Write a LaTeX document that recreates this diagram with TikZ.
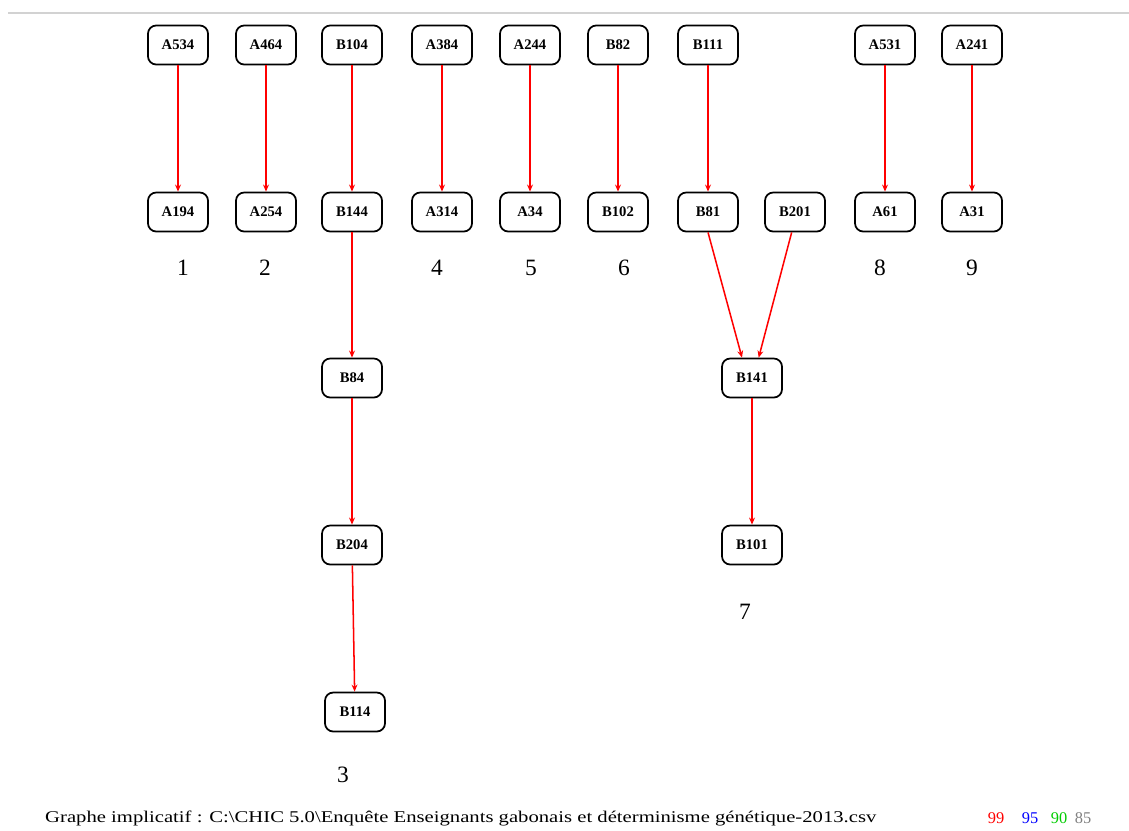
\documentclass[tikz,border=0pt]{standalone}
\usepackage{fontspec}
\setmainfont{Liberation Serif}
\usetikzlibrary{arrows.meta, positioning}

\begin{document}
\begin{tikzpicture}[
    x=0.03cm, y=-0.03cm,
    box/.style={draw, line width=1.5pt, rounded corners=7pt, minimum width=1.8cm, minimum height=1.17cm,
        inner sep=1pt, font=\fontsize{12.5}{13}\selectfont\bfseries},
    lbl/.style={font=\fontsize{20}{22}\selectfont},
    foot/.style={font=\fontsize{14}{15}\selectfont, inner sep=0pt},
    imp/.style={->, red, line width=1.3pt},
    >={Stealth[length=6pt, width=5pt]}
]
\useasboundingbox (0,0) rectangle (1129,830);
\draw[gray!35, line width=1pt] (8,13) -- (1129,13);

% first row
\node[box] (A534) at (178,45) {A534};
\node[box] (A464) at (266,45) {A464};
\node[box] (B104) at (352,45) {B104};
\node[box] (A384) at (442,45) {A384};
\node[box] (A244) at (530,45) {A244};
\node[box] (B82) at (618,45) {B82};
\node[box] (B111) at (708,45) {B111};
\node[box] (A531) at (885,45) {A531};
\node[box] (A241) at (972,45) {A241};

% second row
\node[box] (A194) at (178,212) {A194};
\node[box] (A254) at (266,212) {A254};
\node[box] (B144) at (352,212) {B144};
\node[box] (A314) at (442,212) {A314};
\node[box] (A34) at (530,212) {A34};
\node[box] (B102) at (618,212) {B102};
\node[box] (B81) at (708,212) {B81};
\node[box] (B201) at (795,212) {B201};
\node[box] (A61) at (885,212) {A61};
\node[box] (A31) at (972,212) {A31};

% lower chains
\node[box] (B84) at (352,378) {B84};
\node[box] (B204) at (352,545) {B204};
\node[box] (B114) at (355,712) {B114};
\node[box] (B141) at (752,378) {B141};
\node[box] (B101) at (752,545) {B101};

% class numbers
\node[lbl] (n1) at (183,268) {1};
\node[lbl] (n2) at (265,268) {2};
\node[lbl] (n4) at (437,268) {4};
\node[lbl] (n5) at (531,268) {5};
\node[lbl] (n6) at (624,268) {6};
\node[lbl] (n8) at (880,268) {8};
\node[lbl] (n9) at (972,268) {9};
\node[lbl] (n3) at (343,775) {3};
\node[lbl] (n7) at (745,612) {7};

\draw[imp] (A534) -- (A194);
\draw[imp] (A464) -- (A254);
\draw[imp] (B104) -- (B144);
\draw[imp] (A384) -- (A314);
\draw[imp] (A244) -- (A34);
\draw[imp] (B82) -- (B102);
\draw[imp] (B111) -- (B81);
\draw[imp] (A531) -- (A61);
\draw[imp] (A241) -- (A31);

\draw[imp] (B144) -- (B84);
\draw[imp] (B84) -- (B204);
\draw[imp] (B204) -- (B114);

\draw[imp] (B81.south) -- ([xshift=-0.3cm]B141.north);
\draw[imp] ([xshift=-0.1cm]B201.south) -- ([xshift=0.2cm]B141.north);
\draw[imp] (B141) -- (B101);

% footer
\node[foot, anchor=west] (title) at (45,818)
    {\scalebox{1.26}[1]{Graphe implicatif : C:\textbackslash CHIC 5.0\textbackslash Enquête Enseignants gabonais et déterminisme génétique-2013.csv}};
\node[foot, red] (t99) at (996,818) {99};
\node[foot, blue] (t95) at (1030,818) {95};
\node[foot, green!80!black] (t90) at (1059,818) {90};
\node[foot, gray] (t85) at (1083,818) {85};
\end{tikzpicture}
\end{document}
